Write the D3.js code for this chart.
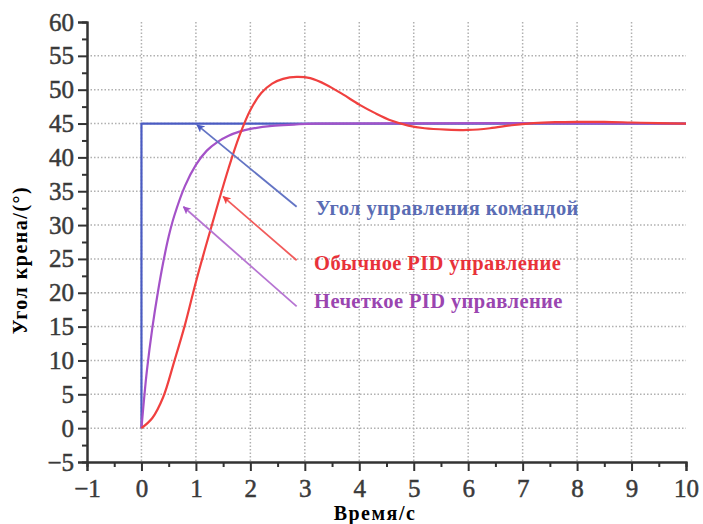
<!DOCTYPE html>
<html>
<head>
<meta charset="utf-8">
<script src="https://cdn.jsdelivr.net/npm/d3@7"></script>
<style>
  body { margin: 0; background: #fff; }
  svg { display: block; }
</style>
</head>
<body>
<svg id="chart" width="703" height="524"></svg>
<script>
"use strict"

// tick values
const xTicks = [-1, 0, 1, 2, 3, 4, 5, 6, 7, 8, 9, 10]
const yTicks = [-5, 0, 5, 10, 15, 20, 25, 30, 35, 40, 45, 50, 55, 60]

// command angle (step)
const commandT = [0, 0, 10]
const commandV = [0, 45, 45]

// ordinary PID response
const pidT = [0, 0.2, 0.4, 0.6, 0.8, 1.0, 1.2, 1.4, 1.6, 1.8, 2.0, 2.2, 2.4, 2.6, 2.85, 3.1, 3.4, 3.7, 4.0, 4.3, 4.6, 4.9, 5.2, 5.6, 6.0, 6.4, 6.8, 7.2, 7.6, 8.0, 8.5, 9.0, 9.5, 10]
const pidV = [0, 1.5, 4.6, 9.8, 15.3, 21.6, 27.4, 33.0, 38.4, 43.2, 47.0, 49.5, 50.9, 51.6, 51.9, 51.7, 50.7, 49.3, 47.8, 46.5, 45.4, 44.7, 44.3, 44.1, 44.05, 44.3, 44.75, 45.05, 45.2, 45.25, 45.25, 45.15, 45.05, 45.0]

// fuzzy PID response
const fuzzyT = [0, 0.05, 0.1, 0.2, 0.3, 0.4, 0.5, 0.6, 0.8, 1.0, 1.2, 1.4, 1.6, 1.8, 2.0, 2.4, 2.8, 3.2, 10]
const fuzzyV = [0, 4.5, 8.5, 14.8, 20.0, 24.5, 28.3, 31.3, 35.8, 38.9, 41.0, 42.3, 43.2, 43.8, 44.2, 44.65, 44.85, 45.0, 45.0]

// annotation labels: text anchor (t, v), arrow tail and head
const labels = ["Угол управления командой", "Обычное PID управление", "Нечеткое PID управление"]
const labelT = [3.2, 3.17, 3.17]
const labelV = [31.5, 23.4, 17.7]
const arrowTail = [[2.85, 32.7], [2.85, 24.8], [2.85, 18.0]]
const arrowHead = [[1.02, 44.8], [1.5, 34.2], [0.77, 32.7]]

const lineColors = ["#4a5bc2", "#f0403f", "#a452c8"]
const arrowColors = ["#6374c4", "#f15b5b", "#b674d2"]
const textColors = ["#5a6cb4", "#e8323a", "#9a45b0"]

const svg = d3.select("#chart")
const serif = "'Liberation Serif', 'Times New Roman', serif"

const x = d3.scaleLinear().domain([-1, 10]).range([87, 686])
const y = d3.scaleLinear().domain([-5, 60]).range([462, 22])

// grid
const grid = svg.append("g").attr("class", "grid")
    .attr("stroke", "#b0b0b0")
    .attr("stroke-width", 1.5)
    .attr("stroke-dasharray", "1.5,2")

grid.selectAll(".vgrid")
    .data(xTicks.filter(d => d >= 0 && d < 10))
    .enter().append("line")
    .attr("x1", d => x(d)).attr("x2", d => x(d))
    .attr("y1", y(60)).attr("y2", y(-5))

grid.selectAll(".hgrid")
    .data(yTicks.filter(d => d >= 0 && d < 60))
    .enter().append("line")
    .attr("x1", x(-1)).attr("x2", x(10))
    .attr("y1", d => y(d)).attr("y2", d => y(d))

// axes
const fmt = d => d < 0 ? "\u2212" + Math.abs(d) : d
const xAxis = d3.axisBottom(x).tickValues(xTicks).tickSize(9).tickPadding(8).tickFormat(fmt)
const xMinor = d3.axisBottom(x).tickValues(d3.range(-0.5, 10, 1)).tickSize(5).tickFormat("")
const yAxis = d3.axisLeft(y).tickValues(yTicks).tickSize(9).tickPadding(4).tickFormat(fmt)
const yMinor = d3.axisLeft(y).tickValues(d3.range(-2.5, 60, 5)).tickSize(5).tickFormat("")

function styleAxis(g) {
    g.select(".domain").attr("stroke", "#333").attr("stroke-width", 2)
    g.selectAll(".tick line").attr("stroke", "#333").attr("stroke-width", 2)
    g.selectAll(".tick text")
        .attr("fill", "#3a3a3a")
        .attr("stroke", "#3a3a3a")
        .attr("stroke-width", 0.5)
        .style("font-family", serif)
        .style("font-size", "25px")
}

svg.append("g").attr("transform", "translate(0," + y(-5) + ")").call(xMinor).call(styleAxis)
svg.append("g").attr("transform", "translate(" + x(-1) + ",0)").call(yMinor).call(styleAxis)
svg.append("g").attr("transform", "translate(0," + y(-5) + ")").call(xAxis).call(styleAxis)
svg.append("g").attr("transform", "translate(" + x(-1) + ",0)").call(yAxis).call(styleAxis)

// curves
const line = d3.line().x(d => x(d[0])).y(d => y(d[1]))
const smooth = d3.line().x(d => x(d[0])).y(d => y(d[1])).curve(d3.curveCatmullRom.alpha(0.5))

const series = [
    { pts: d3.zip(commandT, commandV), gen: line, color: lineColors[0] },
    { pts: d3.zip(fuzzyT, fuzzyV), gen: smooth, color: lineColors[2] },
    { pts: d3.zip(pidT, pidV), gen: smooth, color: lineColors[1] }
]

svg.selectAll(".curve")
    .data(series)
    .enter().append("path")
    .attr("class", "curve")
    .attr("fill", "none")
    .attr("stroke", d => d.color)
    .attr("stroke-width", 2.2)
    .attr("stroke-linejoin", "round")
    .attr("d", d => d.gen(d.pts))

// arrowheads
const defs = svg.append("defs")
arrowColors.forEach((c, i) => {
    defs.append("marker")
        .attr("id", "head" + i)
        .attr("viewBox", "0 0 10 10")
        .attr("refX", 9).attr("refY", 5)
        .attr("markerWidth", 8).attr("markerHeight", 8)
        .attr("markerUnits", "userSpaceOnUse")
        .attr("orient", "auto")
        .append("path")
        .attr("d", "M0,0 L10,5 L0,10 L2.5,5 Z")
        .attr("fill", lineColors[i])
})

svg.selectAll(".arrow")
    .data(labels)
    .enter().append("line")
    .attr("class", "arrow")
    .attr("x1", (d, i) => x(arrowTail[i][0])).attr("y1", (d, i) => y(arrowTail[i][1]))
    .attr("x2", (d, i) => x(arrowHead[i][0])).attr("y2", (d, i) => y(arrowHead[i][1]))
    .attr("stroke", (d, i) => arrowColors[i])
    .attr("stroke-width", 1.8)
    .attr("marker-end", (d, i) => "url(#head" + i + ")")

svg.selectAll(".label")
    .data(labels)
    .enter().append("text")
    .attr("class", "label")
    .attr("x", (d, i) => x(labelT[i]))
    .attr("y", (d, i) => y(labelV[i]))
    .attr("fill", (d, i) => textColors[i])
    .style("font-family", serif)
    .style("font-weight", "bold")
    .style("font-size", "20.5px")
    .style("letter-spacing", "0.4px")
    .text(d => d)

// axis titles
svg.append("text")
    .attr("transform", "translate(27,260) rotate(-90)")
    .style("text-anchor", "middle")
    .style("font-family", serif)
    .style("font-weight", "bold")
    .style("font-size", "20px")
    .style("letter-spacing", "1.5px")
    .text("Угол крена/(°)")

svg.append("text")
    .attr("x", 375).attr("y", 520)
    .style("text-anchor", "middle")
    .style("font-family", serif)
    .style("font-weight", "bold")
    .style("font-size", "20px")
    .style("letter-spacing", "1.5px")
    .text("Время/с")
</script>
</body>
</html>
